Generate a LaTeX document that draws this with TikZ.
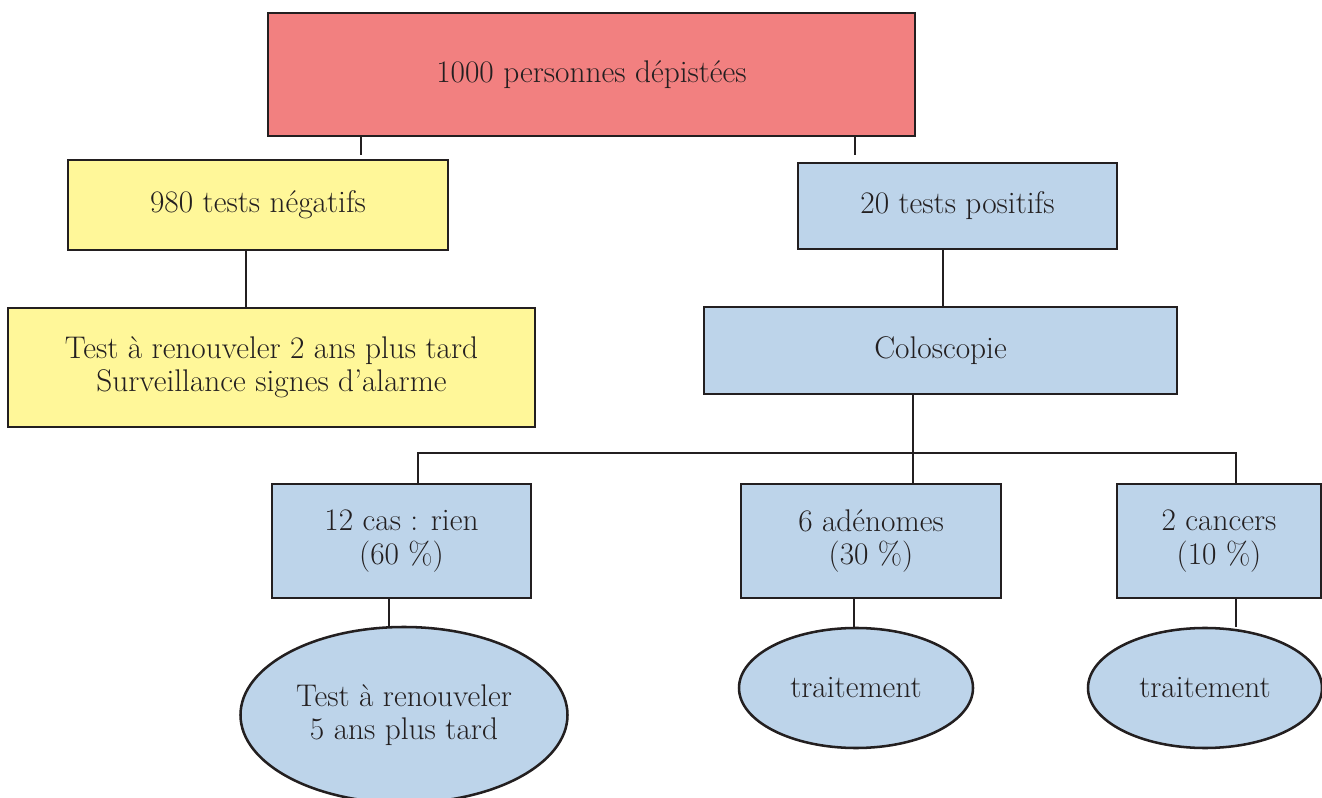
\documentclass[tikz,border=0pt]{standalone}
\usetikzlibrary{shapes.geometric}
\definecolor{redbox}{HTML}{F28080}
\definecolor{yelbox}{HTML}{FFF799}
\definecolor{bluebox}{HTML}{BDD4EA}
\definecolor{ink}{HTML}{231F20}
\tikzset{
  base/.style={draw=ink, line width=1.9pt, text=ink, inner sep=0pt, align=center,
    font=\fontsize{23.5pt}{25pt}\selectfont},
  rbox/.style={base, rectangle, fill=redbox},
  ybox/.style={base, rectangle, fill=yelbox},
  bbox/.style={base, rectangle, fill=bluebox},
  bell/.style={base, ellipse, fill=bluebox},
  link/.style={draw=ink, line width=1.9pt}
}
\begin{document}
\begin{tikzpicture}[x=0.75pt, y=-0.75pt]
\clip (0,0) rectangle (1322,798);
\fill[white] (0,0) rectangle (1322,798);
% boxes
\node[rbox, minimum width=485.25pt, minimum height=92.25pt] (top) at (591.5,74.5) {1000 personnes dépistées};
\node[ybox, minimum width=285pt, minimum height=67.5pt] (neg) at (258,205) {980 tests négatifs};
\node[bbox, minimum width=239.25pt, minimum height=64.5pt] (pos) at (957.5,206) {20 tests positifs};
\node[ybox, minimum width=395.25pt, minimum height=89.25pt] (negtxt) at (271.5,367.5) {Test à renouveler 2 ans plus tard\\Surveillance signes d’alarme};
\node[bbox, minimum width=354.75pt, minimum height=65.25pt] (colo) at (940.5,350.5) {Coloscopie};
\node[bbox, minimum width=194.25pt, minimum height=85.5pt] (rien) at (401.5,541) {12 cas~: rien\\(60~\%)};
\node[bbox, minimum width=195pt, minimum height=85.5pt] (aden) at (871,541) {6 adénomes\\(30~\%)};
\node[bbox, minimum width=153pt, minimum height=85.5pt] (canc) at (1219,541) {2 cancers\\(10~\%)};
\node[bell, minimum width=245.25pt, minimum height=132pt] (ell1) at (404,715) {Test à renouveler\\5 ans plus tard};
\node[bell, minimum width=175.5pt, minimum height=90pt] (ell2) at (856,688) {traitement};
\node[bell, minimum width=175.5pt, minimum height=90pt] (ell3) at (1205,688) {traitement};
% helper coordinates
\coordinate (s1) at (361,155);
\coordinate (s2) at (855,155);
\coordinate (c1) at (246,0);
\coordinate (c2) at (943,0);
\coordinate (cb) at (913,0);
\coordinate (hl) at (418,453);
\coordinate (hr) at (1236,453);
\coordinate (e1) at (389,0);
\coordinate (e2) at (854,0);
\coordinate (e3) at (1236,627);
% connectors
\draw[link] (top.south -| s1) -- (s1);
\draw[link] (top.south -| s2) -- (s2);
\draw[link] (neg.south -| c1) -- (negtxt.north -| c1);
\draw[link] (pos.south -| c2) -- (colo.north -| c2);
\draw[link] (colo.south -| cb) -- (aden.north -| cb);
\draw[link] (rien.north -| hl) -- (hl) -- (hr) -- (canc.north -| hr);
\draw[link] (rien.south -| e1) -- (ell1.north -| e1);
\draw[link] (aden.south -| e2) -- (ell2.north -| e2);
\draw[link] (canc.south -| e3) -- (e3);
\end{tikzpicture}
\end{document}
